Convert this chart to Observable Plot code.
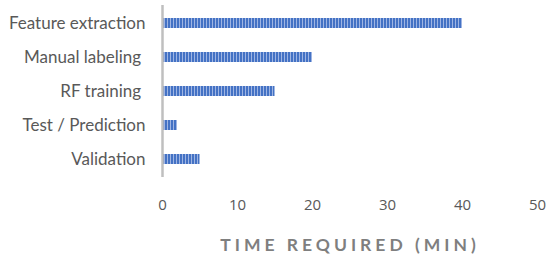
<!DOCTYPE html>
<html><head><meta charset="utf-8">
<script src="https://cdn.jsdelivr.net/npm/d3@7"></script>
<script src="https://cdn.jsdelivr.net/npm/@observablehq/plot@0.6"></script>
<style>
body{margin:0;background:#fff;}
svg{font-family:Lato,"Open Sans",sans-serif;}
</style>
</head><body><div id="chart"></div>
<script>
const categories = ["Feature extraction","Manual labeling\u00a0","RF training\u00a0","Test / Prediction","Validation"];
const values = [40, 20, 15, 2, 5];
const xTicks = [0,10,20,30,40,50];
const axisTitle = "TIME REQUIRED (MIN)";

const data = categories.map((c,i)=>({task:c, value:values[i]}));

const chart = Plot.plot({
  width: 550, height: 255,
  marginLeft: 162, marginRight: 13, marginTop: 5, marginBottom: 78,
  style: {fontFamily: "Lato, 'Open Sans', sans-serif", background: "#fff"},
  x: {domain: [0,50], ticks: xTicks},
  y: {domain: categories, paddingInner: 0.7, paddingOuter: 0.35},
  marks: [
    Plot.barX(data, {x: "value", y: "task", fill: "url(#stripes)"}),
    Plot.ruleX([0], {stroke: "#bfbfbf", strokeWidth: 2.5}),
    Plot.axisY({tickSize: 0, tickPadding: 17, fontSize: 17, color: "#595959", label: null}),
    Plot.axisX({ticks: xTicks, tickSize: 0, tickPadding: 22, fontSize: 15, fontFamily: "'Open Sans', sans-serif", color: "#595959", label: null}),
    Plot.text([axisTitle], {frameAnchor: "bottom", dy: 73, text: d=>d, fontSize: 17.5, fontWeight: "bold", fill: "#7f7f7f"})
  ]
});
const svg = d3.select(chart);
const defs = svg.insert("defs", ":first-child");
const pat = defs.append("pattern").attr("id","stripes").attr("patternUnits","userSpaceOnUse")
  .attr("width",3).attr("height",10);
pat.append("rect").attr("width",3).attr("height",10).attr("fill","#4472c4");
pat.append("rect").attr("x",2).attr("width",1).attr("height",10).attr("fill","#9fb5e3");
svg.selectAll("text").filter(function(){return this.textContent===axisTitle;}).style("letter-spacing","4px");
document.getElementById("chart").appendChild(chart);
</script></body></html>
